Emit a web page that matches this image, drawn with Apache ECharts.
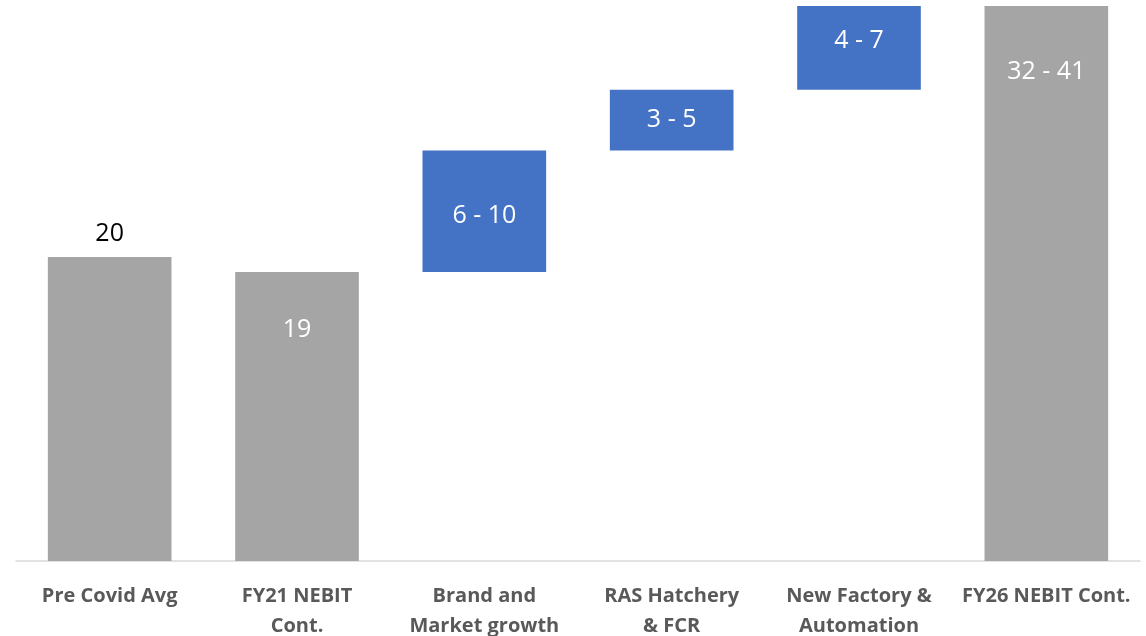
<!DOCTYPE html>
<html>
<head>
<meta charset="utf-8">
<script src="https://cdn.jsdelivr.net/npm/echarts@6/dist/echarts.min.js"></script>
<style>
  html, body { margin: 0; padding: 0; background: #fff; }
  #chart { width: 1146px; height: 636px; }
</style>
</head>
<body>
<div id="chart"></div>
<script>
const categories = [
  'Pre Covid Avg',
  'FY21 NEBIT\nCont.',
  'Brand and\nMarket growth',
  'RAS Hatchery\n& FCR',
  'New Factory &\nAutomation',
  'FY26 NEBIT Cont.'
]
// invisible offset under each floating bar
const baseValues = [0, 0, 19, 27, 31, 0]
// visible bar heights (ranges drawn at their midpoint)
const barValues = [20, 19, 8, 4, 5.5, 36.5]
const valueLabels = ['20', '19', '6 - 10', '3 - 5', '4 - 7', '32 - 41']
const isTotal = [true, true, false, false, false, true]

const grey = '#a5a5a5'
const blue = '#4472c4'
const font = '"Open Sans", Lato, sans-serif'

// label placement per bar kind
function labelFor(i) {
  if (i === 0) {
    return { show: true, position: 'top', distance: 11, color: '#000', fontSize: 25 }
  }
  if (isTotal[i]) {
    return { show: true, position: 'insideTop', distance: i === 5 ? 53 : 45, color: '#fff', fontSize: 25 }
  }
  const dy = [0, 0, 5, 0, -7][i]
  return { show: true, position: 'inside', offset: [0, dy], color: '#fff', fontSize: 25 }
}

const chart = echarts.init(document.getElementById('chart'))

chart.setOption({
  animation: false,
  textStyle: { fontFamily: font },
  grid: { left: 16, right: 6, top: 6, bottom: 75, containLabel: false, outerBoundsMode: 'none' },
  xAxis: {
    type: 'category',
    data: categories,
    axisLine: { lineStyle: { color: '#d9d9d9', width: 1.5 } },
    axisTick: { show: false },
    axisLabel: {
      interval: 0,
      margin: 20,
      color: '#595959',
      fontWeight: 'bold',
      fontSize: 20,
      lineHeight: 30,
      fontFamily: font
    }
  },
  yAxis: {
    type: 'value',
    min: 0,
    max: 36.5,
    show: false,
    splitLine: { show: false }
  },
  series: [
    {
      type: 'bar',
      stack: 'w',
      data: baseValues,
      itemStyle: { color: 'transparent' },
      silent: true,
      barWidth: '66%'
    },
    {
      type: 'bar',
      stack: 'w',
      barWidth: '66%',
      data: barValues.map((v, i) => ({
        value: v,
        itemStyle: { color: isTotal[i] ? grey : blue },
        label: Object.assign(labelFor(i), {
          fontFamily: font,
          formatter: () => valueLabels[i]
        })
      }))
    }
  ]
})
</script>
</body>
</html>
